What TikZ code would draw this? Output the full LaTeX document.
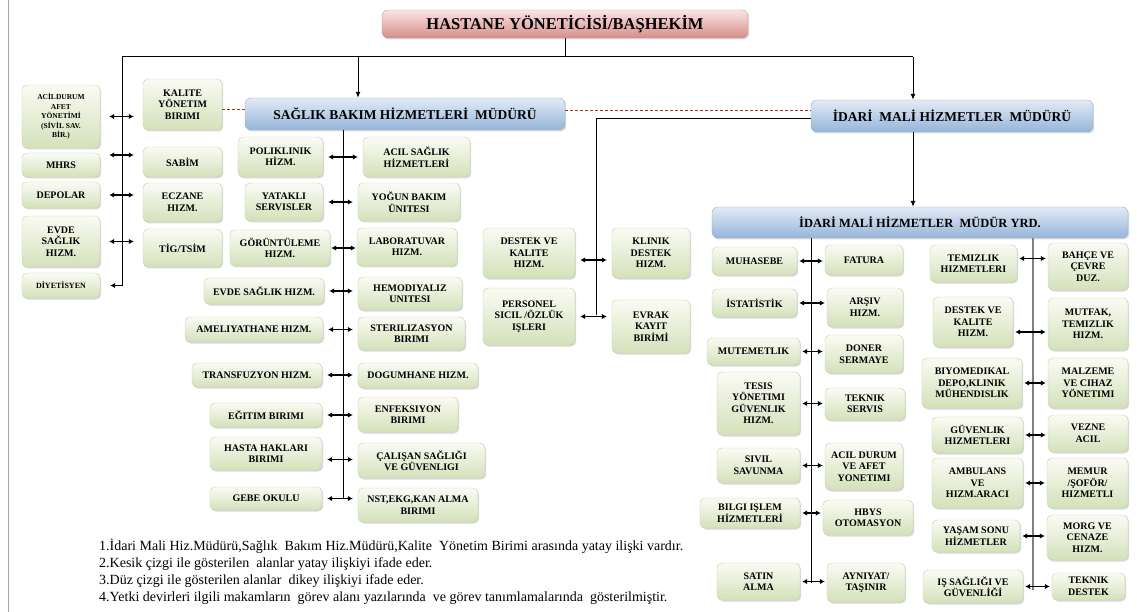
\documentclass[tikz,border=0pt]{standalone}
\usepackage{fontspec}
\setmainfont{Liberation Serif}
\usetikzlibrary{arrows.meta,shadows}

\definecolor{unittop}{RGB}{250,251,244}
\definecolor{unitbot}{RGB}{212,225,186}
\definecolor{unitrim}{RGB}{196,210,168}
\definecolor{leadtop}{RGB}{226,235,246}
\definecolor{leadbot}{RGB}{150,180,216}
\definecolor{leadrim}{RGB}{150,175,205}
\definecolor{chieftop}{RGB}{251,228,228}
\definecolor{chiefbot}{RGB}{214,140,140}
\definecolor{chiefrim}{RGB}{205,150,150}
\definecolor{dashred}{RGB}{170,50,40}

\begin{document}
\begin{tikzpicture}[x=1pt,y=-1pt,
    cell/.style={draw=unitrim,line width=0.4pt,rounded corners=5pt,
      top color=unittop,bottom color=unitbot,align=center,inner sep=1pt,
      font=\fontsize{10}{11.5}\selectfont\bfseries,
      drop shadow={shadow xshift=1.2pt,shadow yshift=-1.5pt,opacity=0.3}},
    unit/.style 2 args={cell,minimum width=#1pt,minimum height=#2pt},
    fine/.style={font=\fontsize{7.5}{9.5}\selectfont\bfseries},
    lead/.style={cell,draw=leadrim,top color=leadtop,bottom color=leadbot,
      rounded corners=6pt,font=\fontsize{13.5}{15}\selectfont\bfseries},
    chief/.style={cell,draw=chiefrim,top color=chieftop,bottom color=chiefbot,
      rounded corners=6pt,font=\fontsize{16.5}{18}\selectfont\bfseries},
    wire/.style={line width=1pt},
    drop/.style={wire,-{Latex[length=6pt,width=5pt]}},
    tip/.style={line width=1.3pt,-{Latex[length=5pt,width=5.5pt]}},
    pair/.style={line width=1.3pt,{Latex[length=5pt,width=5.5pt]}-{Latex[length=5pt,width=5.5pt]},
      shorten <=#1,shorten >=#1},
    pair/.default=2pt,
    rim/.style={draw=dashred,line width=0.8pt,dash pattern=on 3pt off 2pt},
    note/.style={align=left,inner sep=0pt,font=\fontsize{14}{17}\selectfont}]

\useasboundingbox (0,0) rectangle (1137,612);
\draw[gray!70,line width=1pt] (8,0) -- (8,612);

% top level
\node[chief,minimum width=366pt,minimum height=28pt] (chief) at (565,24) {HASTANE YÖNETİCİSİ/BAŞHEKİM};
\node[lead,minimum width=320pt,minimum height=32pt] (saglik) at (405,114) {SAĞLIK BAKIM HİZMETLERİ\ \ MÜDÜRÜ};
\node[lead,minimum width=282pt,minimum height=32pt] (idari) at (952,116) {İDARİ\ \ MALİ HİZMETLER\ \ MÜDÜRÜ};
\node[lead,minimum width=416pt,minimum height=31pt,font=\fontsize{12.5}{14}\selectfont\bfseries] (yrd) at (920,222.5) {İDARİ MALİ HİZMETLER\ \ MÜDÜR YRD.};

% left columns
\node[unit={78}{63},fine] (acildurum) at (61,116.5) {ACİLDURUM\\AFET\\YÖNETİMİ\\(SİVİL SAV.\\BİR.)};
\node[unit={78}{24}] (mhrs) at (61,165) {MHRS};
\node[unit={78}{26}] (depolar) at (61,195) {DEPOLAR};
\node[unit={78}{51}] (evdeL) at (61,241.5) {EVDE\\SAĞLIK\\HIZM.};
\node[unit={78}{25},font=\fontsize{8}{9}\selectfont\bfseries] (diyet) at (61,285.5) {DİYETİSYEN};
\node[unit={79}{51}] (kalite) at (182.5,104.5) {KALITE\\YÖNETIM\\BIRIMI};
\node[unit={79}{30}] (sabim) at (182.5,162) {SABİM};
\node[unit={79}{39}] (eczane) at (182.5,202.5) {ECZANE\\HIZM.};
\node[unit={79}{38}] (tig) at (182.5,248) {TİG/TSİM};

% saglik bakim units
\node[unit={85}{40}] (poli) at (280.5,157) {POLIKLINIK\\HİZM.};
\node[unit={78}{38}] (yatakli) at (284,202) {YATAKLI\\SERVISLER};
\node[unit={100}{36}] (goruntu) at (280,248) {GÖRÜNTÜLEME\\HIZM.};
\node[unit={120}{26}] (evdeM) at (264,291) {EVDE SAĞLIK HIZM.};
\node[unit={138}{25}] (amel) at (254,329.5) {AMELIYATHANE HIZM.};
\node[unit={130}{24}] (transf) at (257,375) {TRANSFUZYON HIZM.};
\node[unit={112}{24}] (egitim) at (266,415) {EĞITIM BIRIMI};
\node[unit={112}{33}] (hasta) at (266,453.5) {HASTA HAKLARI\\BIRIMI};
\node[unit={112}{23}] (gebe) at (266,498.5) {GEBE OKULU};
\node[unit={107}{40}] (acilS) at (416.5,157) {ACIL SAĞLIK\\HİZMETLERİ};
\node[unit={102}{38}] (yogun) at (409,202) {YOĞUN BAKIM\\ÜNITESI};
\node[unit={100}{38}] (lab) at (407,247) {LABORATUVAR\\HIZM.};
\node[unit={104}{33}] (hemo) at (410,293.5) {HEMODIYALIZ\\UNITESI};
\node[unit={107}{33}] (steril) at (411.5,333.5) {STERILIZASYON\\BIRIMI};
\node[unit={120}{25}] (dogum) at (418,375.5) {DOGUMHANE HIZM.};
\node[unit={100}{35}] (enfek) at (408,414.5) {ENFEKSIYON\\BIRIMI};
\node[unit={127}{35}] (calisan) at (421.5,460.5) {ÇALIŞAN SAĞLIĞI\\VE GÜVENLIGI};
\node[unit={120}{34}] (nst) at (418,505) {NST,EKG,KAN ALMA\\BIRIMI};

% idari mali units
\node[unit={92}{50}] (destekM) at (529,253) {DESTEK VE\\KALITE\\HIZM.};
\node[unit={92}{57}] (personel) at (529,316.5) {PERSONEL\\SICIL /ÖZLÜK\\IŞLERI};
\node[unit={78}{50}] (klinik) at (651,253) {KLINIK\\DESTEK\\HIZM.};
\node[unit={78}{53}] (evrak) at (651,326.5) {EVRAK\\KAYIT\\BIRİMİ};

% mudur yrd units
\node[unit={85}{28}] (muhasebe) at (754.5,261) {MUHASEBE};
\node[unit={85}{28}] (istat) at (754.5,303) {İSTATİSTİK};
\node[unit={93}{27}] (mutemet) at (753.5,351.5) {MUTEMETLIK};
\node[unit={83}{63}] (tesis) at (758.5,403.5) {TESIS\\YÖNETIMI\\GÜVENLIK\\HIZM.};
\node[unit={83}{35}] (sivil) at (758.5,465.5) {SIVIL\\SAVUNMA};
\node[unit={100}{30}] (bilgi) at (750,513) {BILGI IŞLEM\\HİZMETLERİ};
\node[unit={83}{37}] (satin) at (758.5,581.5) {SATIN\\ALMA};
\node[unit={78}{30}] (fatura) at (864,260) {FATURA};
\node[unit={76}{39}] (arsiv) at (865,307.5) {ARŞIV\\HIZM.};
\node[unit={78}{38}] (doner) at (864,354) {DONER\\SERMAYE};
\node[unit={80}{32}] (teknikS) at (865,404) {TEKNIK\\SERVIS};
\node[unit={78}{47}] (acilD) at (864,466.5) {ACIL DURUM\\VE AFET\\YONETIMI};
\node[unit={90}{35}] (hbys) at (868,517.5) {HBYS\\OTOMASYON};
\node[unit={78}{39}] (ayniyat) at (866,582.5) {AYNIYAT/\\TAŞINIR};
\node[unit={87}{37}] (temiz) at (973.5,263.5) {TEMIZLIK\\HIZMETLERI};
\node[unit={80}{50}] (destekR) at (973,322) {DESTEK VE\\KALITE\\HIZM.};
\node[unit={100}{50}] (biyo) at (972,383) {BIYOMEDIKAL\\DEPO,KLINIK\\MÜHENDISLIK};
\node[unit={91}{36}] (guven) at (977.5,435) {GÜVENLIK\\HIZMETLERI};
\node[unit={91}{50}] (ambulans) at (977.5,483) {AMBULANS\\VE\\HIZM.ARACI};
\node[unit={88}{32}] (yasam) at (976,536) {YAŞAM SONU\\HİZMETLER};
\node[unit={100}{33}] (isg) at (973,586.5) {IŞ SAĞLIĞI VE\\GÜVENLİĞİ};
\node[unit={80}{47}] (bahce) at (1088,266.5) {BAHÇE VE\\ÇEVRE\\DUZ.};
\node[unit={80}{52}] (mutfak) at (1088,324) {MUTFAK,\\TEMIZLIK\\HIZM.};
\node[unit={80}{50}] (malzeme) at (1088,383) {MALZEME\\VE CIHAZ\\YÖNETIMI};
\node[unit={80}{37}] (vezne) at (1088,433.5) {VEZNE\\ACIL};
\node[unit={81}{50}] (memur) at (1087.5,483) {MEMUR\\/ŞOFÖR/\\HIZMETLI};
\node[unit={81}{45}] (morg) at (1087.5,537.5) {MORG VE\\CENAZE\\HIZM.};
\node[unit={73}{27}] (teknikD) at (1088.5,586.5) {TEKNIK\\DESTEK};

% notes
\node[note,anchor=north west] (notes) at (99,539) {1.İdari Mali Hiz.Müdürü,Sağlık\ \ Bakım Hiz.Müdürü,Kalite\ \ Yönetim Birimi arasında yatay ilişki vardır.\\
2.Kesik çizgi ile gösterilen\ \ alanlar yatay ilişkiyi ifade eder.\\
3.Düz çizgi ile gösterilen alanlar\ \ dikey ilişkiyi ifade eder.\\
4.Yetki devirleri ilgili makamların\ \ görev alanı yazılarında\ \ ve görev tanımlamalarında\ \ gösterilmiştir.};

% connectors
\coordinate (bus) at (122,57);
\coordinate (sbdrop) at (358,57);
\coordinate (imdrop) at (913,57);
\coordinate (sbspine) at (343,498);
\coordinate (imspine) at (596,315);
\coordinate (yl) at (811,583);
\coordinate (yr) at (1033,590);

\draw[wire] (chief.south) -- (chief.south |- bus);
\draw[wire] (bus) -- (imdrop);
\draw[drop] (sbdrop) -- (sbdrop |- saglik.north);
\draw[drop] (imdrop) -- (imdrop |- idari.north);
\draw[wire] (bus) -- (bus |- diyet.east);
\draw[tip,shorten >=10pt] (bus |- diyet.east) -- (diyet.east);
\draw[wire] (saglik.south -| sbspine) -- (sbspine);
\draw[wire] ([yshift=-3pt]idari.west) -| (imspine);
\draw[drop] (imdrop |- idari.south) -- (imdrop |- yrd.north);
\draw[wire] (yrd.south -| yl) -- (yl);
\draw[wire,gray,line width=1.6pt] (yrd.south -| yr) -- (yr);

\draw[rim] ([yshift=-5pt]kalite.east) -- ([yshift=-5pt]kalite.east -| saglik.west);
\draw[rim] ([yshift=4pt]saglik.east) -- ([yshift=4pt]saglik.east -| idari.west);

\draw[pair=9pt] (acildurum.east) -- (acildurum.east -| kalite.west);
\draw[pair=9pt] ([yshift=10pt]mhrs.east) -- ([yshift=10pt]mhrs.east -| sabim.west);
\draw[pair=9pt] (depolar.east) -- (depolar.east -| eczane.west);
\draw[pair=9pt] (evdeL.east) -- (evdeL.east -| tig.west);

\draw[pair=5pt] (poli.east) -- (poli.east -| acilS.west);
\draw[pair=5pt] (yatakli.east) -- (yatakli.east -| yogun.west);
\draw[pair=1pt] (goruntu.east) -- (goruntu.east -| lab.west);
\draw[pair=5pt] (evdeM.east) -- (evdeM.east -| hemo.west);
\draw[pair=5pt] (amel.east) -- (amel.east -| steril.west);
\draw[pair=5pt] (transf.east) -- (transf.east -| dogum.west);
\draw[pair=5pt] (egitim.east) -- (egitim.east -| enfek.west);
\draw[pair=5pt] ([yshift=-6pt]hasta.east) -- ([yshift=-6pt]hasta.east -| calisan.west);
\draw[pair=5pt] (gebe.east) -- (gebe.east -| nst.west);

\draw[pair=5pt] ([yshift=-7pt]destekM.east) -- ([yshift=-7pt]destekM.east -| klinik.west);
\draw[pair=5pt] (personel.east) -- (personel.east -| evrak.west);

\draw[pair] (muhasebe.east) -- (muhasebe.east -| fatura.west);
\draw[pair] (istat.east) -- (istat.east -| arsiv.west);
\draw[pair] (mutemet.east) -- (mutemet.east -| doner.west);
\draw[pair] (tesis.east) -- (tesis.east -| teknikS.west);
\draw[pair] (sivil.east) -- (sivil.east -| acilD.west);
\draw[pair] (bilgi.east) -- (bilgi.east -| hbys.west);
\draw[pair] (satin.east) -- (satin.east -| ayniyat.west);

\draw[pair] ([yshift=5pt]temiz.east) -- ([yshift=5pt]temiz.east -| bahce.west);
\draw[pair] ([yshift=-10pt]destekR.east) -- ([yshift=-10pt]destekR.east -| mutfak.west);
\draw[pair] (biyo.east) -- (biyo.east -| malzeme.west);
\draw[pair] (guven.east) -- (guven.east -| vezne.west);
\draw[pair] (ambulans.east) -- (ambulans.east -| memur.west);
\draw[pair] (yasam.east) -- (yasam.east -| morg.west);
\draw[pair] (isg.east) -- (isg.east -| teknikD.west);
\end{tikzpicture}
\end{document}
